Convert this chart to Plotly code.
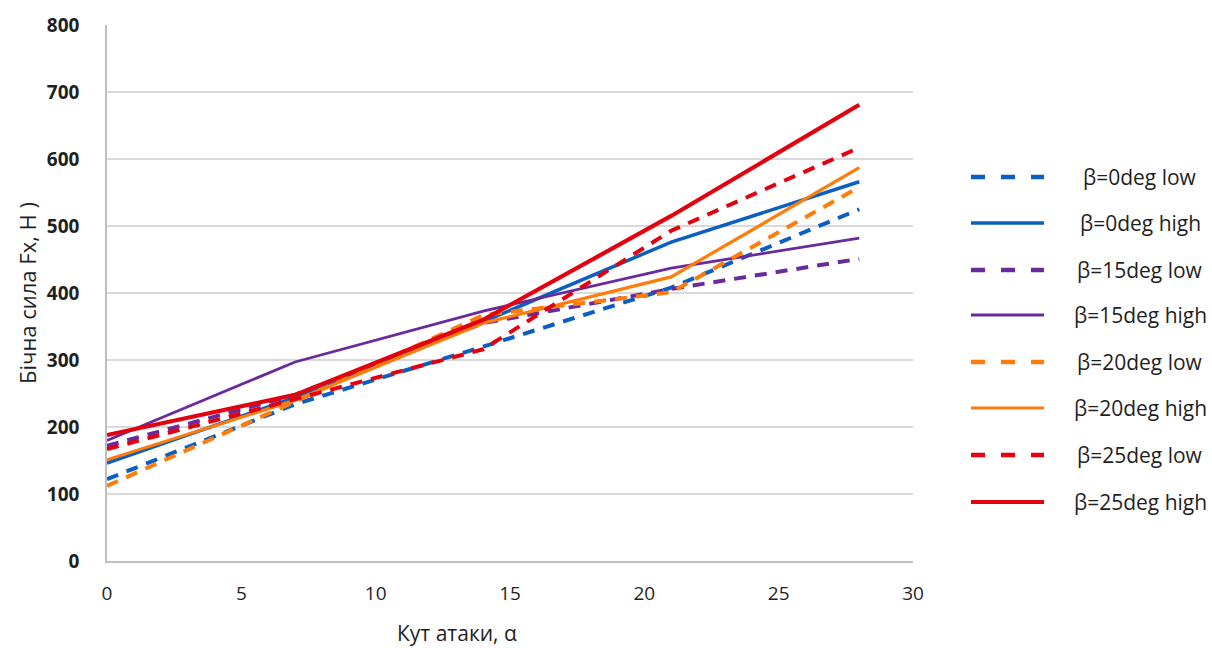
import plotly.graph_objects as go

# Angle of attack, degrees
alpha = [0, 7, 14, 21, 28]

# Side force Fx (N) for each sideslip angle, low / high configuration
series_names = [
    "β=0deg low", "β=0deg high",
    "β=15deg low", "β=15deg high",
    "β=20deg low", "β=20deg high",
    "β=25deg low", "β=25deg high",
]
fx_b0_low = [122, 234, 320, 408, 525]
fx_b0_high = [146, 244, 357, 476, 566]
fx_b15_low = [172, 248, 355, 406, 451]
fx_b15_high = [180, 297, 373, 437, 482]
fx_b20_low = [112, 238, 367, 401, 558]
fx_b20_high = [151, 240, 355, 424, 587]
fx_b25_low = [167, 242, 316, 493, 617]
fx_b25_high = [188, 248, 360, 515, 681]

series_values = [fx_b0_low, fx_b0_high, fx_b15_low, fx_b15_high,
                 fx_b20_low, fx_b20_high, fx_b25_low, fx_b25_high]

x_ticks = [0, 5, 10, 15, 20, 25, 30]
y_ticks = [0, 100, 200, 300, 400, 500, 600, 700, 800]

BLUE = "#0b5fc2"
PURPLE = "#6a2a9c"
ORANGE = "#ff7b0a"
RED = "#e3000f"

styles = [
    dict(color=BLUE, width=4, dash="12px,9px"),
    dict(color=BLUE, width=3.5, dash="solid"),
    dict(color=PURPLE, width=4, dash="12px,9px"),
    dict(color=PURPLE, width=2.8, dash="solid"),
    dict(color=ORANGE, width=4, dash="12px,9px"),
    dict(color=ORANGE, width=3.2, dash="solid"),
    dict(color=RED, width=4, dash="12px,9px"),
    dict(color=RED, width=4.2, dash="solid"),
]
legend_dash = "14px,16px"

fig = go.Figure()
for name, vals, st in zip(series_names, series_values, styles):
    fig.add_trace(go.Scatter(
        x=alpha, y=vals, mode="lines", name=name,
        line=dict(color=st["color"], width=st["width"], dash=st["dash"]),
        showlegend=False,
    ))

# Plot area geometry in pixels (used for the hand-built legend and titles)
W, H = 1212, 648
L, R, T, B = 107, 299, 25, 87
pw, ph = W - L - R, H - T - B

def px_to_paper_x(px):
    return (px - L) / pw

def px_to_paper_y(py):
    return (H - B - py) / ph

TEXT = "#1f1f1f"
SANS = "Open Sans, Liberation Sans, sans-serif"

legend_rows = [177, 223, 270, 315, 362, 408, 455, 502]
shapes = []
annotations = []
for name, st, row in zip(series_names, styles, legend_rows):
    yy = px_to_paper_y(row)
    shapes.append(dict(
        type="line", xref="paper", yref="paper",
        x0=px_to_paper_x(971), x1=px_to_paper_x(1044), y0=yy, y1=yy,
        line=dict(color=st["color"], width=st["width"] if st["dash"] == "solid" else 4.5,
                  dash="solid" if st["dash"] == "solid" else legend_dash),
    ))
    annotations.append(dict(
        text=name, xref="paper", yref="paper",
        x=px_to_paper_x(1140), y=yy, xanchor="center", yanchor="middle",
        showarrow=False,
        font=dict(family=SANS, size=21, color=TEXT),
    ))

# x-axis title
annotations.append(dict(
    text="Кут атаки, α", xref="paper", yref="paper",
    x=px_to_paper_x(457), y=px_to_paper_y(633), xanchor="center", yanchor="middle",
    showarrow=False, font=dict(family=SANS, size=21, color=TEXT),
))

fig.update_layout(
    width=W, height=H,
    margin=dict(l=L, r=R, t=T, b=B),
    paper_bgcolor="white", plot_bgcolor="white",
    shapes=shapes, annotations=annotations,
    font=dict(family=SANS, color=TEXT),
)

fig.update_xaxes(
    range=[0, 30], tickvals=x_ticks, ticktext=[str(v) for v in x_ticks],
    showgrid=False, zeroline=False,
    showline=True, linecolor="#bfbfbf", linewidth=1.5,
    ticks="", ticklabelstandoff=14,
    tickfont=dict(family=SANS, size=19, color=TEXT),
)
fig.update_yaxes(
    range=[0, 800], tickvals=y_ticks, ticktext=[str(v) for v in y_ticks],
    showgrid=True, gridcolor="#d9d9d9", gridwidth=1.5, zeroline=False,
    showline=True, linecolor="#bfbfbf", linewidth=1.5,
    ticks="", ticklabelstandoff=22,
    tickfont=dict(family=SANS, size=19, color=TEXT, weight="bold"),
    title=dict(text="Бічна сила Fx, Н )", standoff=4,
               font=dict(family=SANS, size=22, color=TEXT)),
)

fig.write_html("out.html")
